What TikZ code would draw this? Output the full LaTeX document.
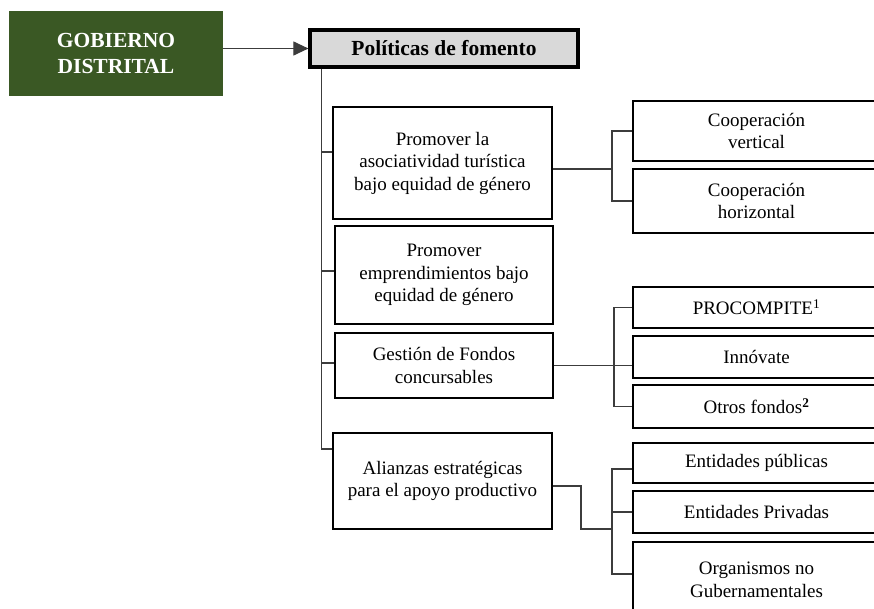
\documentclass[tikz,border=0pt]{standalone}
\usepackage{fontspec}
\setmainfont{Liberation Serif}
\usetikzlibrary{arrows.meta}
\definecolor{gobgreen}{RGB}{58,88,36}
\definecolor{polgray}{RGB}{217,217,217}
\definecolor{linkgray}{RGB}{60,60,60}
\begin{document}
\begin{tikzpicture}[x=1pt,y=-1pt]
				\tikzset{
					box/.style={draw=black, line width=2.9pt, align=center, inner sep=0pt,
						font=\fontsize{19}{22.5}\selectfont},
					subbox/.style={box, minimum width=247pt},
					link/.style={draw=linkgray, line width=1.1pt}
				}
				\useasboundingbox (0,0) rectangle (874,608);
				\clip (0,0) rectangle (874,608);
				% cabecera
				\node [fill=gobgreen, text=white, minimum width=214pt, minimum height=85pt, align=center,
					font=\fontsize{21.5}{26}\selectfont\bfseries] (gob) at (116,53.5) {GOBIERNO\\DISTRITAL};
				\node [box, fill=polgray, line width=3.2pt, minimum width=268pt, minimum height=37pt,
					font=\fontsize{21.5}{26}\selectfont\bfseries] (pol) at (444,48.5) {Políticas de fomento};
				\draw [link, -{Triangle[length=15pt,width=14pt]}] (gob.east |- pol.west) -- (pol.west);
				% politicas
				\node [box, minimum width=219pt, minimum height=112pt] (aso) at (442.5,163) {Promover la\\asociatividad turística\\bajo equidad de género};
				\node [box, minimum width=218pt, minimum height=98pt] (emp) at (444,275) {Promover\\emprendimientos bajo\\equidad de género};
				\node [box, minimum width=218pt, minimum height=65pt] (fon) at (444,365.5) {Gestión de Fondos\\concursables};
				\node [box, minimum width=219pt, minimum height=96pt] (ali) at (442.5,481) {Alianzas estratégicas\\para el apoyo productivo};
				% acciones
				\node [subbox, minimum height=60pt] (cver) at (756.5,131) {Cooperación\\vertical};
				\node [subbox, minimum height=64pt] (chor) at (756.5,201) {Cooperación\\horizontal};
				\node [subbox, minimum height=41pt] (proc) at (756.5,307.5) {PROCOMPITE\textsuperscript{1}};
				\node [subbox, minimum height=42pt] (innov) at (756.5,357) {Innóvate};
				\node [subbox, minimum height=43pt] (otros) at (756.5,406.5) {Otros fondos\textsuperscript{\textbf{2}}};
				\node [subbox, minimum height=40pt] (epub) at (756.5,463) {Entidades públicas};
				\node [subbox, minimum height=42pt] (epriv) at (756.5,512) {Entidades Privadas};
				\node [subbox, minimum height=76pt] (ong) at (756.5,580) {Organismos no\\Gubernamentales};
				% tronco
				\coordinate (trunk) at ([xshift=13pt]pol.south west);
				\coordinate (j1) at ([yshift=11pt]aso.west);
				\coordinate (j2) at ([yshift=4pt]emp.west);
				\coordinate (j3) at ([yshift=2.5pt]fon.west);
				\coordinate (j4) at ([yshift=32pt]ali.west);
				\draw [link] (trunk) |- (j4);
				\draw [link] (trunk |- j1) -- (j1);
				\draw [link] (trunk |- j2) -- (j2);
				\draw [link] (trunk |- j3) -- (j3);
				% llaves
				\coordinate (b1) at (612,0);
				\coordinate (b3) at (614,0);
				\coordinate (b4) at (612,0);
				\coordinate (k4) at (581,529);
				\coordinate (e1) at ([yshift=-6pt]aso.east);
				\draw [link] (e1) -- (b1 |- e1);
				\draw [link] (cver.west) -- (b1 |- cver.west) -- (b1 |- chor.west) -- (chor.west);
				\draw [link] (fon.east) -- (innov.west |- fon.east);
				\draw [link] (proc.west) -- (b3 |- proc.west) -- (b3 |- otros.west) -- (otros.west);
				\coordinate (e4) at ([yshift=-5pt]ali.east);
				\coordinate (s41) at ([yshift=-6pt]epub.west);
				\coordinate (s43) at ([yshift=6pt]ong.west);
				\draw [link] (e4) -| (k4) -- (b4 |- k4);
				\draw [link] (s41) -- (b4 |- s41) -- (b4 |- s43) -- (s43);
				\draw [link] (epriv.west) -- (b4 |- epriv.west);
\end{tikzpicture}
\end{document}
